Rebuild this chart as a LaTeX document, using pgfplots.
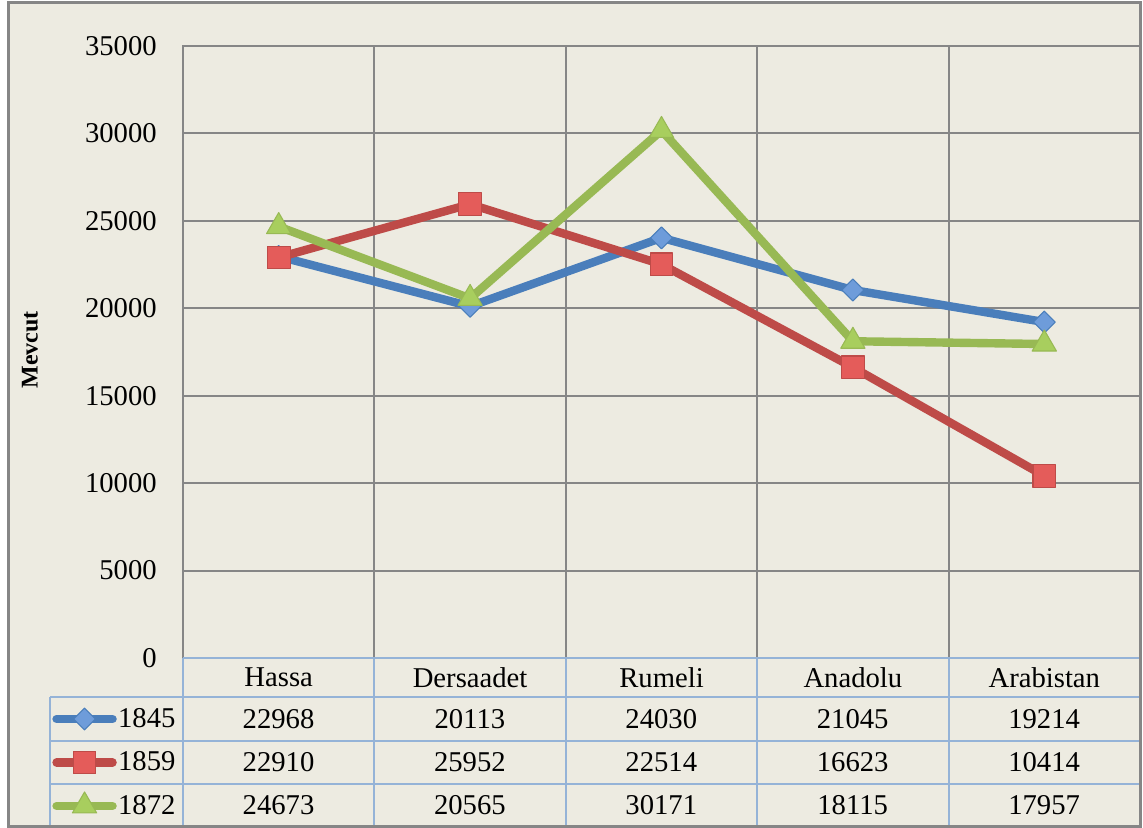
\documentclass[border=0pt]{standalone}
\usepackage{pgfplots}
\usepackage{pgfplotstable}
\pgfplotsset{compat=1.18}
\usepackage{fontspec}
\setmainfont{Liberation Serif}
\definecolor{bg}{RGB}{237,235,225}
\definecolor{gridgray}{RGB}{134,134,134}
\definecolor{tblue}{RGB}{149,179,215}
\definecolor{s1}{RGB}{74,126,187}
\definecolor{s1f}{RGB}{110,156,218}
\definecolor{s2}{RGB}{190,75,72}
\definecolor{s2f}{RGB}{228,92,90}
\definecolor{s3}{RGB}{152,185,84}
\definecolor{s3f}{RGB}{168,206,94}
\newcommand\tblfont{\fontsize{21.5}{25}\selectfont}

\pgfplotstableread{
x cat s1845 s1859 s1872
0 Hassa 22968 22910 24673
1 Dersaadet 20113 25952 20565
2 Rumeli 24030 22514 30171
3 Anadolu 21045 16623 18115
4 Arabistan 19214 10414 17957
}\data

\begin{document}
\begin{tikzpicture}[x=0.75pt,y=-0.75pt]
\path (0,0) rectangle (1143,828);
\draw[fill=bg, draw=gridgray, line width=2.25pt] (8.5,2.5) rectangle (1140.5,826);
\begin{axis}[
  at={(137.25pt,-493.5pt)}, anchor=south west,
  scale only axis, width=717.75pt, height=459pt,
  xmin=-0.5, xmax=4.5, ymin=0, ymax=35000,
  xtick={0,1,2,3,4},
  xticklabels from table={\data}{cat},
  minor xtick={-0.5,0.5,1.5,2.5,3.5,4.5},
  xminorgrids=true, xmajorgrids=false,
  ytick={0,5000,10000,15000,20000,25000,30000,35000},
  ymajorgrids=true,
  major grid style={draw=gridgray, line width=1.5pt},
  minor grid style={draw=gridgray, line width=1.5pt},
  major tick length=0pt, minor tick length=0pt,
  axis line style={draw=gridgray, line width=1.5pt},
  tick label style={font=\tblfont},
  /pgf/number format/assume math mode=true,
  /pgf/number format/1000 sep={},
  scaled y ticks=false,
  yticklabel style={anchor=east, inner sep=0pt, xshift=-19.5pt},
  xticklabel style={anchor=center, inner sep=0pt, yshift=-14.6pt},
  legend style={at={(-0.1368,-0.0637)}, anchor=north west, draw=none, fill=none,
    font=\tblfont, inner sep=0pt, row sep=0pt,
    nodes={inner xsep=1pt, inner ysep=0pt, minimum height=32.6pt}},
  legend cell align=left,
  legend image code/.code={\draw[#1, mark repeat=2, mark phase=2, line cap=round]
    plot coordinates {(0pt,0pt) (21pt,0pt) (42pt,0pt)};},
]
\addplot[s1, line width=6.3pt, line join=round, mark=square*, mark size=5.8pt,
  mark options={fill=s1f, draw=s1, line width=0.8pt, rotate=45}]
  table[x=x, y=s1845] {\data};
\addlegendentry{1845}
\addplot[s2, line width=6.3pt, line join=round, mark=square*, mark size=8.5pt,
  mark options={fill=s2f, draw=s2, line width=0.8pt}]
  table[x=x, y=s1859] {\data};
\addlegendentry{1859}
\addplot[s3, line width=6.3pt, line join=round, mark=triangle*, mark size=10.5pt,
  mark options={fill=s3f, draw=s3, line width=0.8pt}]
  table[x=x, y=s1872] {\data};
\addlegendentry{1872}
\end{axis}
% data table grid
\begin{scope}[draw=tblue, line width=1.5pt]
  \draw (183,658) -- (1139,658);
  \foreach \yy in {697,741,784} \draw (50,\yy) -- (1139,\yy);
  \foreach \xx in {183,374.4,565.8,757.2,948.6} \draw (\xx,658) -- (\xx,825);
  \draw (50,697) -- (50,825);
\end{scope}
\foreach \i in {0,...,4} {
  \pgfplotstablegetelem{\i}{s1845}\of\data
  \node[font=\tblfont, inner sep=0pt] at (278.5+191.4*\i, 719) {\pgfplotsretval};
  \pgfplotstablegetelem{\i}{s1859}\of\data
  \node[font=\tblfont, inner sep=0pt] at (278.5+191.4*\i, 762.5) {\pgfplotsretval};
  \pgfplotstablegetelem{\i}{s1872}\of\data
  \node[font=\tblfont, inner sep=0pt] at (278.5+191.4*\i, 805) {\pgfplotsretval};
}
\node[rotate=90, font=\fontsize{18}{21}\selectfont\bfseries] at (30,350) {Mevcut};
\end{tikzpicture}
\end{document}
